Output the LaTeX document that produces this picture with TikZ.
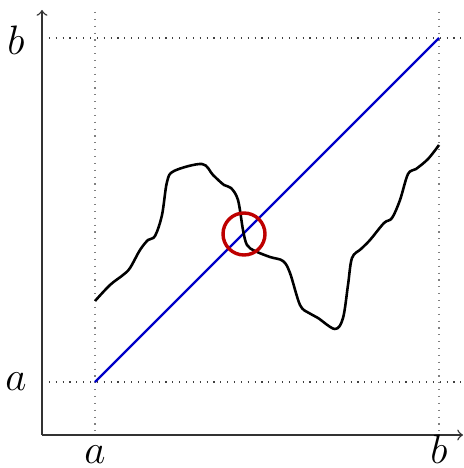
\documentclass[tikz,border=0pt]{standalone}
\begin{document}
\begin{tikzpicture}[x=0.35pt,y=-0.35pt,
  axis/.style={->,line width=0.5pt,draw=black!80},
  guide/.style={dotted,line width=0.4pt,draw=black!75},
  vguide/.style={dotted,line width=0.4pt,draw=black!50},
  lbl/.style={font=\Large}]
\useasboundingbox (0,0) rectangle (463,468);
% guides
\draw[vguide] (95,12) -- (95,435);
\draw[vguide] (439,12) -- (439,435);
\draw[guide] (42,38) -- (463,38);
\draw[guide] (42,382) -- (463,382);
% axes
\coordinate (O) at (42,435);
\coordinate (ytop) at (42,10);
\coordinate (xend) at (463,435);
\draw[axis] (O) -- (ytop);
\draw[axis] (O) -- (xend);
% labels
\node[lbl] (lb) at (16,40) {$b$};
\node[lbl] (la) at (16,382) {$a$};
\node[lbl,inner sep=0pt,anchor=base] (xa) at (95,463) {$a$};
\node[lbl,inner sep=0pt,anchor=base] (xb) at (439,463) {$b$};
% diagonal
\coordinate (p0) at (95,382);
\coordinate (p1) at (439,38);
\draw[line width=0.8pt,draw={rgb,255:red,0;green,0;blue,200}] (p0) -- (p1);
% curve
\draw[line width=0.9pt,line join=round] plot[smooth,tension=0.55] coordinates {
(95,301) (110,285) (123,275) (130,268) (140,250) (148,240) (155,236) (162,215) (167,182) (174,171) (202,164) (213,175) (224,185) (231,188) (238,200) (243,230) (247,245) (255,251) (270,257) (283,261) (290,273) (300,305) (309,313) (318,318) (335,329) (343,318) (348,285) (352,258) (361,249) (370,240) (384,223) (392,218) (400,200) (408,174) (416,169) (428,159) (439,145)};
% circle
\node[circle,draw={rgb,255:red,190;green,0;blue,0},line width=1.2pt,minimum size=42*0.35pt,inner sep=0pt] (c) at (244,234) {};
\end{tikzpicture}
\end{document}
